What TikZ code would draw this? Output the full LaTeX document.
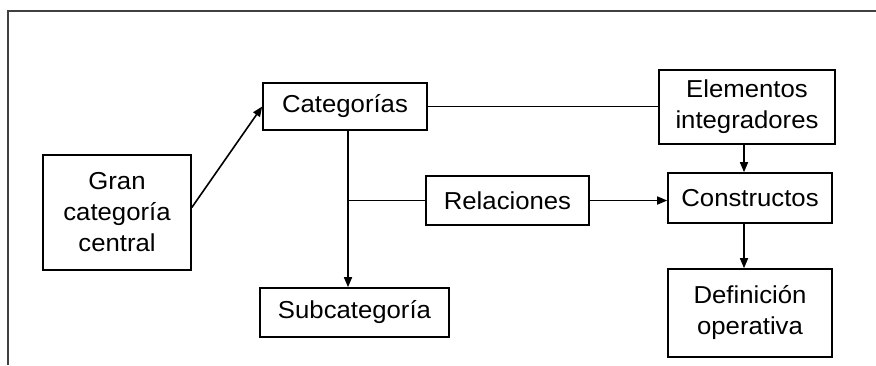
\documentclass[tikz,border=0pt]{standalone}
\usepackage{fontspec}
\setmainfont{Liberation Sans}[FakeStretch=1.05]
\usetikzlibrary{arrows.meta}
\begin{document}
\begin{tikzpicture}[x=1pt,y=-1pt,
  box/.style={draw=black,line width=1.6pt,rectangle,inner sep=0pt,align=center,
    font=\fontsize{24.5}{31}\selectfont},
  conn/.style={line width=1.6pt,draw=black},
  arr/.style={conn,-{Triangle[length=10pt,width=8pt]}}]
\useasboundingbox (0,0) rectangle (876,365);
\draw[line width=1.7pt,draw=black!75] (8,365) -- (8,11) -- (876,11);
\node[box,minimum width=148pt,minimum height=115pt] (gran) at (117,212.5) {Gran\\categoría\\central};
\node[box,minimum width=164pt,minimum height=47pt] (cat) at (345,106.5) {Categorías};
\node[box,minimum width=189pt,minimum height=49pt] (sub) at (354.5,312.5) {Subcategoría};
\node[box,minimum width=163pt,minimum height=49pt] (rel) at (507.5,200.5) {Relaciones};
\node[box,minimum width=176pt,minimum height=74pt] (elem) at (747,107) {Elementos\\integradores};
\node[box,minimum width=164pt,minimum height=50pt] (cons) at (750,198) {Constructos};
\node[box,minimum width=164pt,minimum height=88pt] (def) at (750,313) {Definición\\operativa};
\coordinate (cs) at ([xshift=3pt]cat.south);
\coordinate (j) at (cs |- rel.west);
\draw[arr] ([yshift=5pt]gran.east) -- (cat.west);
\draw[arr] (cs) -- (cs |- sub.north);
\draw[conn] (j) -- (rel.west);
\draw[conn] (cat.east) -- (cat.east -| elem.west);
\draw[arr] (rel.east) -- (rel.east -| cons.west);
\coordinate (es) at ([xshift=-3pt]elem.south);
\draw[arr] (es) -- (es |- cons.north);
\draw[arr] (es |- cons.south) -- (es |- def.north);
\end{tikzpicture}
\end{document}
